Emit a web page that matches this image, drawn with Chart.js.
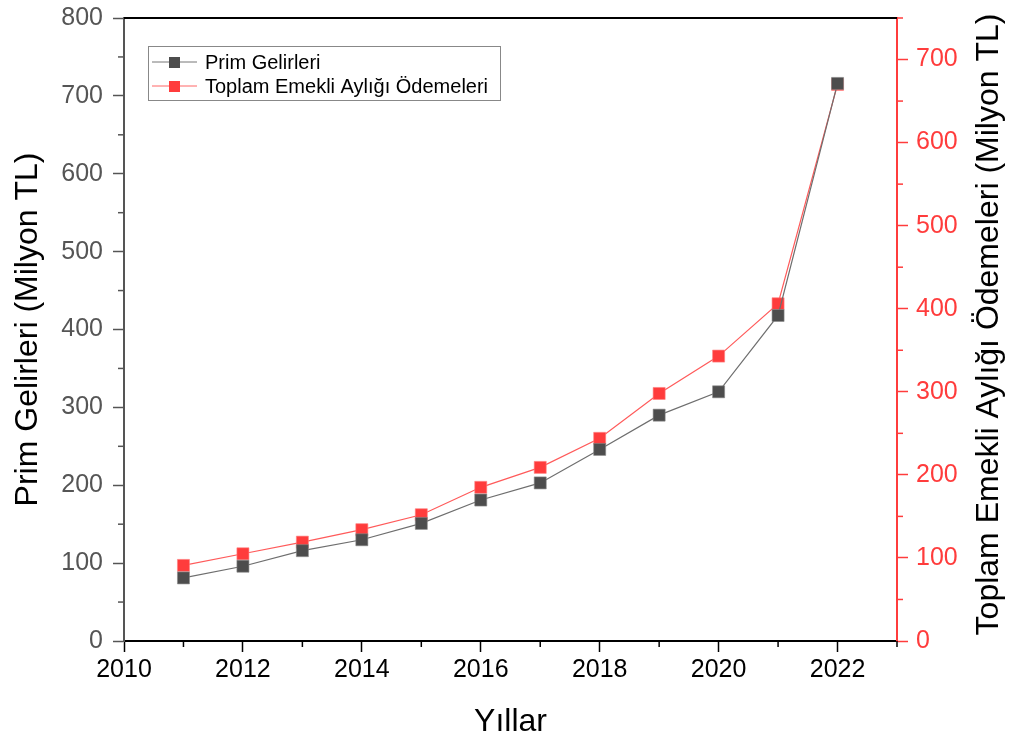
<!doctype html>
<html>
<head>
<title>Prim Gelirleri ve Emekli Aylığı Ödemeleri</title>
<script src="https://cdn.jsdelivr.net/npm/chart.js@4.4.0/dist/chart.umd.min.js"></script>
<style>
body { margin:0; background:#fff; }
#canvas-holder { width:1013px; height:742px; }
</style>
</head>
<body>
<div id="canvas-holder"><canvas id="chart-area"></canvas></div>
<script>
var years = [2011, 2012, 2013, 2014, 2015, 2016, 2017, 2018, 2019, 2020, 2021, 2022];
var primGelirleri = [81, 96, 116, 130, 151, 181, 203, 246, 290, 320, 418, 716];
var emekliOdemeleri = [91, 105, 119, 134, 152, 185, 209, 244, 298, 343, 406, 670];
var xTicks = [2010, 2012, 2014, 2016, 2018, 2020, 2022];
var leftTicks = [0, 100, 200, 300, 400, 500, 600, 700, 800];
var rightTicks = [0, 100, 200, 300, 400, 500, 600, 700];
var seriesNames = ['Prim Gelirleri', 'Toplam Emekli Aylığı Ödemeleri'];
var rightTitle = 'Toplam Emekli Aylığı Ödemeleri (Milyon TL)';

var FONT = 'Liberation Sans, Arial, sans-serif';
var RED = '#ff3c3c';
var DARK = '#4d4d4d';

function points(vals) {
    return years.map(function (y, i) { return { x: y, y: vals[i] }; });
}
function setTicks(list) {
    return function (scale) { scale.ticks = list.map(function (v) { return { value: v }; }); };
}
function fitY(width) {
    return function (s) { s.width = width; s.paddingTop = 0; s.paddingBottom = 0; };
}

// minor ticks, top border, right title (reads bottom-up) and the boxed legend
var extras = {
    id: 'extras',
    afterDraw: function (chart) {
        var c = chart.ctx, a = chart.chartArea;
        var sx = chart.scales.x, yl = chart.scales.y, yr = chart.scales.y2;
        c.save();
        c.lineWidth = 1.5;
        c.strokeStyle = '#000';
        for (var yr0 = 2011; yr0 <= 2023; yr0 += 2) {
            var px = sx.getPixelForValue(yr0);
            c.beginPath(); c.moveTo(px, a.bottom); c.lineTo(px, a.bottom + 6); c.stroke();
        }
        c.strokeStyle = '#555';
        for (var v = 50; v < 800; v += 100) {
            var py = yl.getPixelForValue(v);
            c.beginPath(); c.moveTo(a.left, py); c.lineTo(a.left - 6, py); c.stroke();
        }
        c.strokeStyle = RED;
        for (var w = 50; w <= 750; w += 100) {
            var pr = yr.getPixelForValue(w);
            c.beginPath(); c.moveTo(a.right, pr); c.lineTo(a.right + 6, pr); c.stroke();
        }
        c.strokeStyle = '#000';
        c.lineWidth = 2;
        c.beginPath(); c.moveTo(a.left, a.top); c.lineTo(a.right, a.top); c.stroke();

        // right axis title
        c.save();
        c.translate(989, (a.top + a.bottom) / 2 - 5);
        c.rotate(-Math.PI / 2);
        c.font = '32px ' + FONT;
        c.fillStyle = '#000';
        c.textAlign = 'center';
        c.textBaseline = 'middle';
        c.fillText(rightTitle, 0, 0);
        c.restore();

        // legend
        var lx = 148, ly = 46, lw = 352, lh = 54;
        c.lineWidth = 1;
        c.strokeStyle = '#888';
        c.strokeRect(lx + 0.5, ly + 0.5, lw, lh);
        var cols = [DARK, RED], lines = ['#777', '#ff6666'];
        c.font = '20px ' + FONT;
        c.textBaseline = 'middle';
        for (var i = 0; i < 2; i++) {
            var ry = ly + 16 + i * 24;
            c.strokeStyle = lines[i];
            c.beginPath(); c.moveTo(lx + 4, ry); c.lineTo(lx + 49, ry); c.stroke();
            c.fillStyle = cols[i];
            c.fillRect(lx + 21, ry - 5, 11, 11);
            c.fillStyle = '#000';
            c.fillText(seriesNames[i], lx + 57, ry + 1);
        }
        c.restore();
    }
};

var config = {
    type: 'line',
    data: {
        datasets: [{
            label: seriesNames[0],
            data: points(primGelirleri),
            yAxisID: 'y',
            borderColor: '#6e6e6e',
            borderWidth: 1.2,
            backgroundColor: DARK,
            pointStyle: 'rect',
            pointRadius: 8.5,
            pointBorderColor: '#888',
            pointBorderWidth: 0.6,
            tension: 0
        }, {
            label: seriesNames[1],
            data: points(emekliOdemeleri),
            yAxisID: 'y2',
            borderColor: '#ff5a5a',
            borderWidth: 1.2,
            backgroundColor: RED,
            pointStyle: 'rect',
            pointRadius: 8.5,
            pointBorderColor: '#ff8080',
            pointBorderWidth: 0.6,
            tension: 0
        }]
    },
    options: {
        responsive: true,
        maintainAspectRatio: false,
        animation: false,
        layout: { padding: { top: 18 } },
        plugins: {
            legend: { display: false },
            tooltip: { enabled: false }
        },
        scales: {
            x: {
                type: 'linear',
                min: 2010,
                max: 2023,
                afterBuildTicks: setTicks(xTicks),
                afterFit: function (s) { s.height = 101; },
                border: { color: '#000', width: 2 },
                grid: { drawOnChartArea: false, tickLength: 11, tickColor: '#000', tickWidth: 1.5 },
                ticks: {
                    color: '#000',
                    font: { family: FONT, size: 25 },
                    padding: 3,
                    callback: function (v) { return String(v); }
                },
                title: {
                    display: true,
                    text: 'Yıllar',
                    color: '#000',
                    font: { family: FONT, size: 32 },
                    padding: { top: 10, bottom: 1 }
                }
            },
            y: {
                position: 'left',
                min: 0,
                max: 800,
                afterBuildTicks: setTicks(leftTicks),
                afterFit: fitY(124),
                border: { color: '#555', width: 2 },
                grid: { drawOnChartArea: false, tickLength: 11, tickColor: '#555', tickWidth: 1.5 },
                ticks: {
                    color: '#555',
                    font: { family: FONT, size: 25 },
                    padding: 10
                },
                title: {
                    display: true,
                    text: 'Prim Gelirleri (Milyon TL)',
                    color: '#000',
                    font: { family: FONT, size: 32 },
                    padding: { top: 9, bottom: 0 }
                }
            },
            y2: {
                position: 'right',
                min: 0,
                max: 750,
                afterBuildTicks: setTicks(rightTicks),
                afterFit: fitY(116),
                border: { color: RED, width: 2 },
                grid: { drawOnChartArea: false, tickLength: 11, tickColor: RED, tickWidth: 1.5 },
                ticks: {
                    color: RED,
                    font: { family: FONT, size: 25 },
                    padding: 8
                }
            }
        }
    },
    plugins: [extras]
};

window.onload = function () {
    var ctx = document.getElementById('chart-area').getContext('2d');
    window.myChart = new Chart(ctx, config);
};
</script>
</body>
</html>
